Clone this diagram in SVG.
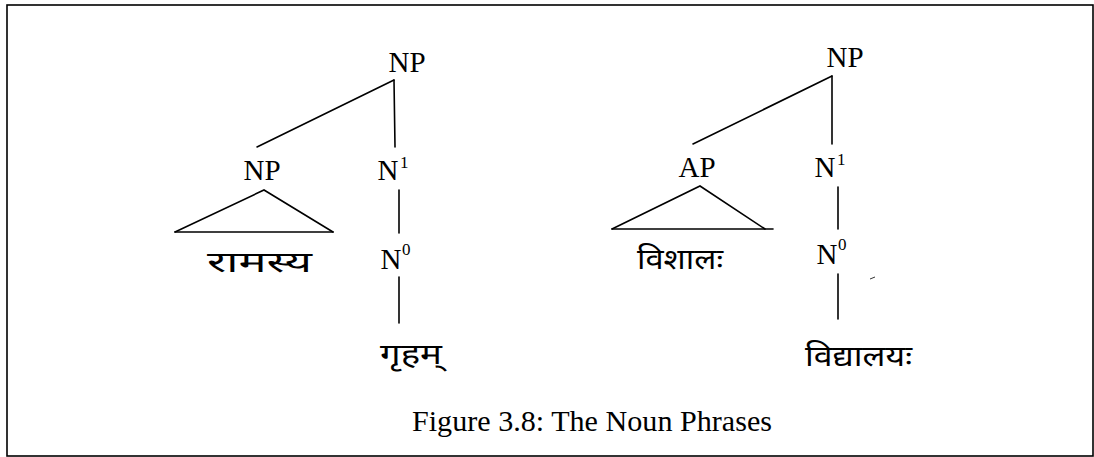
<svg xmlns="http://www.w3.org/2000/svg" width="1094" height="457" viewBox="0 0 1094 457">
<style>
.lbl{font-family:"Liberation Serif","Times New Roman",serif;font-size:29px;fill:#000;text-anchor:middle}
.sup{font-family:"Liberation Serif","Times New Roman",serif;font-size:17px;fill:#000}
.dev{font-family:"Noto Sans Devanagari","Lohit Devanagari","Noto Sans",sans-serif;font-size:29px;fill:#000}
.cap{font-family:"Liberation Serif","Times New Roman",serif;font-size:29px;fill:#000}
.ln{stroke:#000;stroke-width:1.6;fill:none;stroke-linecap:round}
</style>
<rect x="7" y="5" width="1086" height="451" fill="#fff" stroke="#000" stroke-width="1.6"/>
<g id="connectors">
  <line class="ln" x1="394" y1="80" x2="257" y2="147"/>
  <line class="ln" x1="394" y1="80" x2="395" y2="147"/>
  <line class="ln" x1="399" y1="190" x2="399" y2="233"/>
  <line class="ln" x1="399" y1="277" x2="399" y2="323"/>
  <polyline class="ln" points="175,232 264,190 333,232"/>
  <line class="ln" x1="175" y1="232" x2="333" y2="232"/>
  <line class="ln" x1="832" y1="76" x2="693" y2="144"/>
  <line class="ln" x1="832" y1="76" x2="832" y2="144"/>
  <line class="ln" x1="838" y1="187" x2="838" y2="229"/>
  <line class="ln" x1="838" y1="274" x2="838" y2="319"/>
  <polyline class="ln" points="612,229 700,186 765,229"/>
  <line class="ln" x1="612" y1="229" x2="773" y2="229"/>
</g>
<g id="np-top-left"><text class="lbl" x="407" y="72">NP</text></g>
<g id="np-left"><text class="lbl" x="262" y="180">NP</text></g>
<g id="n1-left"><text class="lbl" x="388" y="180">N</text><text class="sup" x="400" y="168">1</text></g>
<g id="n0-left"><text class="lbl" x="391" y="269">N</text><text class="sup" x="402" y="255">0</text></g>
<g id="w-ramasya"><text class="dev" x="207" y="272" textLength="105" lengthAdjust="spacingAndGlyphs">रामस्य</text></g>
<g id="w-griham"><text class="dev" x="380" y="364" textLength="62" lengthAdjust="spacingAndGlyphs">गृहम्</text></g>
<g id="np-top-right"><text class="lbl" x="845" y="67">NP</text></g>
<g id="ap-right"><text class="lbl" x="697" y="177">AP</text></g>
<g id="n1-right"><text class="lbl" x="825" y="177">N</text><text class="sup" x="837" y="165">1</text></g>
<g id="n0-right"><text class="lbl" x="827" y="264">N</text><text class="sup" x="838" y="250">0</text></g>
<g id="w-vishalah"><text class="dev" x="637" y="269" textLength="86" lengthAdjust="spacingAndGlyphs">विशालः</text></g>
<g id="w-vidyalayah"><text class="dev" x="805" y="366" textLength="107" lengthAdjust="spacingAndGlyphs">विद्यालयः</text></g>
<line x1="870" y1="279" x2="875" y2="277" stroke="#000" stroke-width="0.8"/>
<g id="caption"><text class="cap" x="412" y="431" textLength="360" lengthAdjust="spacingAndGlyphs">Figure 3.8: The Noun Phrases</text></g>
</svg>
